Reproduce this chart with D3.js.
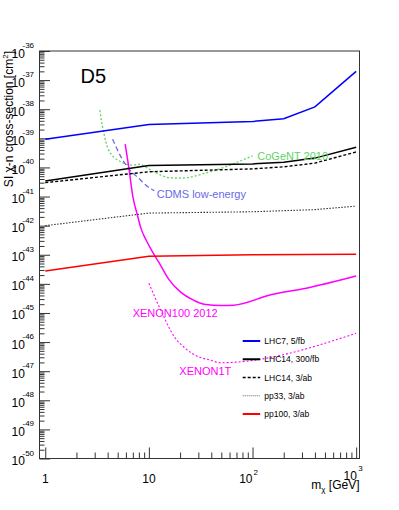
<!DOCTYPE html>
<html>
<head>
<meta charset="utf-8">
<script src="https://cdn.jsdelivr.net/npm/d3@7"></script>
<style>
  body { margin: 0; background: #fff; }
  text { font-family: "Liberation Sans", Arial, Helvetica, sans-serif; }
</style>
</head>
<body>
<div id="chart-area"></div>
<script>
// ---- data (mass in GeV, cross-section in cm^2) ----
var lhc7Mass = [1, 10, 100, 200, 400, 1000];
var lhc7Sigma = [9.3e-40, 3.0e-39, 3.8e-39, 4.7e-39, 1.2e-38, 2.0e-37];

var lhc14Mass = [1, 10, 100, 200, 400, 1000];
var lhc14Sigma = [3.4e-41, 1.17e-40, 1.32e-40, 1.51e-40, 2.09e-40, 4.9e-40];

var lhc14HLMass = [1, 10, 100, 200, 400, 1000];
var lhc14HLSigma = [3.0e-41, 7.1e-41, 8.9e-41, 1.05e-40, 1.41e-40, 3.4e-40];

var pp33Mass = [1, 10, 100, 400, 1000];
var pp33Sigma = [1.0e-42, 2.7e-42, 3.0e-42, 3.55e-42, 4.7e-42];

var pp100Mass = [1, 10, 100, 1000];
var pp100Sigma = [2.75e-44, 8.9e-44, 1.0e-43, 1.05e-43];

var xenon100Mass = [5.9, 6.4, 7.0, 7.7, 8.4, 9.4, 10.7, 12.9, 15.5, 20, 27, 34, 50, 66, 150, 330, 1000];
var xenon100Sigma = [6.3e-40, 1.0e-40, 1.0e-41, 2.5e-42, 7.9e-43, 3.2e-43, 1.35e-43, 4.5e-44, 1.45e-44,
                     5.4e-45, 2.75e-45, 2.0e-45, 1.8e-45, 1.85e-45, 4.2e-45, 7.1e-45, 1.86e-44];

var xenon1TMass = [10, 13, 18, 21.6, 26, 29, 39, 49, 1000];
var xenon1TSigma = [1.05e-44, 1.26e-45, 1.35e-46, 6.9e-47, 4.1e-47, 3.3e-47, 2.4e-47, 1.95e-47, 2.0e-46];

var cogentMass = [3.37, 3.47, 3.65, 4.08, 5.3, 7.1, 7.9, 11.1, 15.5, 20, 39, 100];
var cogentSigma = [9.3e-39, 4.3e-39, 1.7e-39, 4.0e-40, 1.6e-40, 1.2e-40, 1.3e-40, 7.1e-41,
                   4.5e-41, 4.3e-41, 7.1e-41, 2.5e-40];

var cdmsMass = [4.46, 5.5, 6.36, 7.94, 10.3, 11.3];
var cdmsSigma = [9.3e-40, 2.0e-40, 9.3e-41, 4.3e-41, 1.9e-41, 1.6e-41];

var legendLabels = ["LHC7, 5/fb", "LHC14, 300/fb", "LHC14, 3/ab", "pp33, 3/ab", "pp100, 3/ab"];
var yExponents = [-36, -37, -38, -39, -40, -41, -42, -43, -44, -45, -46, -47, -48, -49, -50];
var xTickValues = [1, 10, 100, 1000];
var xTickBase = ["1", "10", "10", "10"];
var xTickExp = ["", "", "2", "3"];

// ---- layout ----
var margin = { left: 39.5, right: 39.5, top: 51, bottom: 51.5 };
var width = 399 - margin.left - margin.right,
    height = 510 - margin.top - margin.bottom;

var svg = d3.select("#chart-area")
    .append("svg")
        .attr("width", 399)
        .attr("height", 510);

var g = svg.append("g")
    .attr("transform", "translate(" + margin.left + "," + margin.top + ")");

// Scales
var x = d3.scaleLog()
    .domain([0.88, 1077])
    .range([0, width]);
var y = d3.scaleLog()
    .domain([1e-50, 1e-36])
    .range([height, 0]);

function pairs(ms, ss) {
    return ms.map(function(m, i) { return [m, ss[i]]; });
}

// minor ticks 2..9 per decade
function minorTicks(lo, hi) {
    var out = [];
    for (var e = lo; e < hi; e++) {
        for (var k = 2; k < 10; k++) {
            out.push(k * Math.pow(10, e));
        }
    }
    return out;
}

// ---- axes ----
var yMajor = yExponents.map(function(e) { return Math.pow(10, e); });
g.append("g")
    .attr("class", "y axis")
    .call(d3.axisLeft(y).tickValues(yMajor).tickSize(-10.5).tickFormat(""));
g.append("g")
    .attr("class", "y axis minor")
    .call(d3.axisLeft(y).tickValues(minorTicks(-50, -36)).tickSize(-5).tickFormat(""));

g.append("g")
    .attr("class", "x axis")
    .attr("transform", "translate(0," + height + ")")
    .call(d3.axisBottom(x).tickValues(xTickValues).tickSize(-11).tickFormat(""));
g.append("g")
    .attr("class", "x axis minor")
    .attr("transform", "translate(0," + height + ")")
    .call(d3.axisBottom(x).tickValues(minorTicks(0, 3)).tickSize(-6).tickFormat(""));

g.selectAll(".axis path").remove();
g.selectAll(".axis line").attr("stroke", "#333").attr("stroke-width", 1);

// frame
g.append("rect")
    .attr("width", width)
    .attr("height", height)
    .attr("fill", "none")
    .attr("stroke", "#333")
    .attr("stroke-width", 1);

// y tick labels, ROOT style 10^{-n}
yExponents.forEach(function(e) {
    var ty = margin.top + y(Math.pow(10, e));
    svg.append("text")
        .attr("x", 11.5)
        .attr("y", ty + 6.5)
        .attr("font-size", "12px")
        .text("10");
    svg.append("text")
        .attr("x", 22.5)
        .attr("y", ty - 3)
        .attr("font-size", "8px")
        .text("-" + Math.abs(e));
});

// x tick labels
xTickValues.forEach(function(v, i) {
    var tx = margin.left + x(v);
    var lift = (i == 3) ? 3 : 0;
    if (xTickExp[i] == "") {
        svg.append("text")
            .attr("x", tx)
            .attr("y", 482.5)
            .attr("font-size", "12px")
            .attr("text-anchor", "middle")
            .text(xTickBase[i]);
    } else {
        svg.append("text")
            .attr("x", tx + (i == 3 ? 0.7 : 0))
            .attr("y", 482.5 - lift)
            .attr("font-size", "12px")
            .attr("text-anchor", "end")
            .text(xTickBase[i]);
        svg.append("text")
            .attr("x", tx + (i == 3 ? 2 : 1))
            .attr("y", 475 - lift * 1.5)
            .attr("font-size", "8px")
            .text(xTickExp[i]);
    }
});

// axis titles
var xTitle = svg.append("text")
    .attr("x", margin.left + width)
    .attr("y", 489)
    .attr("font-size", "12px")
    .attr("text-anchor", "end");
xTitle.append("tspan").text("m");
xTitle.append("tspan").attr("font-size", "8px").attr("dy", 3).text("\u03c7");
xTitle.append("tspan").attr("dy", -3).text(" [GeV]");

var yTitle = svg.append("text")
    .attr("transform", "translate(12.5," + margin.top + ") rotate(-90)")
    .attr("font-size", "12px")
    .attr("text-anchor", "end");
yTitle.append("tspan").text("SI \u03c7-n cross-section [cm");
yTitle.append("tspan").attr("font-size", "8px").attr("dy", -5).text("2");
yTitle.append("tspan").attr("dy", 5).text("]");

// ---- curves ----
var line = d3.line()
    .x(function(d) { return x(d[0]); })
    .y(function(d) { return y(d[1]); });
var smooth = d3.line()
    .curve(d3.curveMonotoneX)
    .x(function(d) { return x(d[0]); })
    .y(function(d) { return y(d[1]); });

var plot = g.append("g");

function drawCurve(gen, data, color, w, dash) {
    plot.append("path")
        .datum(data)
        .attr("d", gen)
        .attr("fill", "none")
        .attr("stroke", color)
        .attr("stroke-width", w)
        .attr("stroke-dasharray", dash);
}

drawCurve(smooth, pairs(cogentMass, cogentSigma), "#5fd35f", 1.3, "2,2");
drawCurve(smooth, pairs(cdmsMass, cdmsSigma), "#6a6ae6", 1.3, "5,3");
drawCurve(smooth, pairs(xenon1TMass, xenon1TSigma), "#ff00ff", 1.1, "2,2");
drawCurve(smooth, pairs(xenon100Mass, xenon100Sigma), "#ff00ff", 1.5, null);
drawCurve(line, pairs(pp33Mass, pp33Sigma), "#333", 1.1, "1.5,1.5");
drawCurve(line, pairs(pp100Mass, pp100Sigma), "#ff0000", 1.5, null);
drawCurve(line, pairs(lhc14HLMass, lhc14HLSigma), "#000", 1.4, "3,2");
drawCurve(line, pairs(lhc14Mass, lhc14Sigma), "#000", 1.5, null);
drawCurve(line, pairs(lhc7Mass, lhc7Sigma), "#0000ff", 1.5, null);

// ---- curve labels ----
function label(txt, px, py, color, size) {
    svg.append("text")
        .attr("x", px)
        .attr("y", py)
        .attr("font-size", size)
        .attr("fill", color)
        .text(txt);
}
label("D5", 80.5, 82.5, "#000", "20px");
label("CoGeNT 2010", 257.3, 159.5, "#5fd35f", "11px");
label("CDMS low-energy", 156.7, 197.5, "#6a6ae6", "11px");
label("XENON100 2012", 132.7, 317, "#ff00ff", "11px");
label("XENON1T", 179.3, 374.5, "#ff00ff", "11px");

// ---- legend ----
var legendStyle = [
    { color: "#0000ff", w: 2, dash: null },
    { color: "#000", w: 2, dash: null },
    { color: "#000", w: 1.3, dash: "3,2" },
    { color: "#666", w: 1, dash: "1,1" },
    { color: "#ff0000", w: 2, dash: null }
];
var legend = svg.append("g")
    .attr("transform", "translate(242.7,341)");

legendLabels.forEach(function(name, i) {
    var row = legend.append("g")
        .attr("transform", "translate(0," + (i * 18.25) + ")");
    row.append("line")
        .attr("x1", 0).attr("x2", 17.5)
        .attr("stroke", legendStyle[i].color)
        .attr("stroke-width", legendStyle[i].w)
        .attr("stroke-dasharray", legendStyle[i].dash);
    row.append("text")
        .attr("x", 21.6)
        .attr("y", 3)
        .attr("font-size", "8.5px")
        .text(name);
});
</script>
</body>
</html>
